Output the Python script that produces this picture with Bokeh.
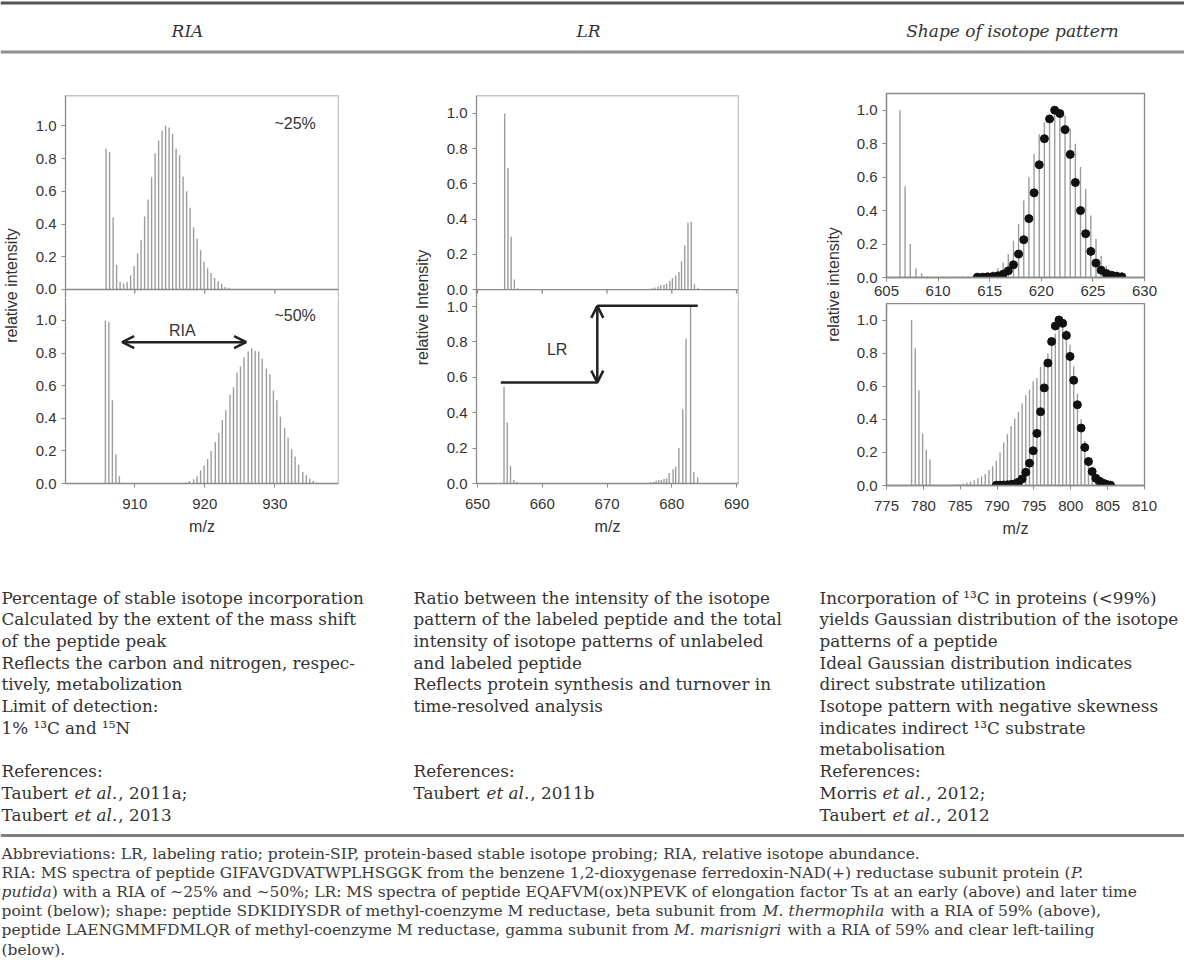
import math
from bokeh.plotting import figure
from bokeh.layouts import column, row
from bokeh.models import Range1d, FixedTicker, NumeralTickFormatter, Arrow, OpenHead, Span
from bokeh.core.properties import value
from bokeh.embed import file_html
from bokeh.resources import INLINE

# ---------------- data ----------------
# RIA column (m/z, relative intensity)
ria_top_mz = [905.9, 906.4, 906.9, 907.4, 907.9, 908.4, 908.9, 909.4, 909.9, 910.4, 910.9, 911.4,
              911.9, 912.4, 912.9, 913.4, 913.9, 914.4, 914.9, 915.4, 915.9, 916.4, 916.9, 917.4,
              917.9, 918.4, 918.9, 919.4, 919.9, 920.4, 920.9, 921.4, 921.9, 922.4, 922.9, 923.4]
ria_top_int = [0.86, 0.84, 0.44, 0.15, 0.047, 0.037, 0.045, 0.087, 0.144, 0.22, 0.30, 0.446,
               0.55, 0.686, 0.83, 0.91, 0.97, 1.0, 0.99, 0.95, 0.86, 0.82, 0.69, 0.60,
               0.50, 0.38, 0.31, 0.24, 0.17, 0.13, 0.10, 0.07, 0.05, 0.035, 0.015, 0.01]
ria_bot_unl_mz = [905.8, 906.3, 906.8, 907.3, 907.8, 908.3]
ria_bot_unl_int = [1.0, 0.99, 0.51, 0.18, 0.045, 0.005]
ria_bot_lab_mz = [916.8, 917.3, 917.8, 918.4, 918.9, 919.4, 919.9, 920.4, 920.9, 921.5, 922.0, 922.5,
                  923.0, 923.6, 924.1, 924.6, 925.1, 925.6, 926.2, 926.7, 927.2, 927.7, 928.2, 928.8,
                  929.3, 929.8, 930.3, 930.8, 931.4, 931.9, 932.4, 932.9, 933.4, 934.0, 934.5, 935.0,
                  935.5, 936.0]
ria_bot_lab_int = [0.004, 0.008, 0.016, 0.026, 0.045, 0.08, 0.11, 0.15, 0.20, 0.255, 0.31, 0.39,
                   0.45, 0.545, 0.59, 0.68, 0.72, 0.775, 0.81, 0.83, 0.815, 0.81, 0.765, 0.705,
                   0.67, 0.57, 0.51, 0.41, 0.34, 0.28, 0.21, 0.165, 0.115, 0.07, 0.05, 0.03,
                   0.016, 0.006]
ria_labels = ["~25%", "~50%"]
ria_arrow_mz = [908.2, 925.9]
ria_arrow_level = 0.867

# LR column
lr_top_unl_mz = [654.2, 654.7, 655.2, 655.7, 656.2]
lr_top_unl_int = [1.0, 0.69, 0.30, 0.057, 0.008]
lr_top_lab_mz = [676.5, 677.0, 677.4, 677.9, 678.3, 678.8, 679.2, 679.7, 680.1, 680.6, 681.1, 681.5,
                 682.0, 682.5, 683.0, 683.5, 684.0]
lr_top_lab_int = [0.004, 0.008, 0.012, 0.018, 0.024, 0.028, 0.035, 0.05, 0.065, 0.08, 0.10, 0.16,
                  0.25, 0.38, 0.385, 0.03, 0.01]
lr_bot_unl_mz = [654.1, 654.6, 655.1, 655.6, 656.1]
lr_bot_unl_int = [0.545, 0.345, 0.10, 0.02, 0.01]
lr_bot_lab_mz = [676.7, 677.2, 677.6, 678.0, 678.4, 678.8, 679.2, 679.6, 680.2, 680.6, 681.1, 681.7,
                 682.2, 682.9, 683.4, 684.0]
lr_bot_lab_int = [0.008, 0.01, 0.015, 0.02, 0.02, 0.025, 0.03, 0.06, 0.08, 0.095, 0.2, 0.42,
                  0.82, 1.0, 0.065, 0.035]
lr_level_unlabeled = 0.57
lr_level_total = 1.004
lr_step_mz = [653.6, 668.5, 684.0]

# Shape column
sh_top_unl_mz = [606.3, 606.8, 607.3, 607.85, 608.4, 608.9, 609.4, 609.9, 610.4, 610.9, 611.4,
                 611.9, 612.4, 612.9, 613.4]
sh_top_unl_int = [1.0, 0.545, 0.2, 0.056, 0.026, 0.006, 0.005, 0.005, 0.005, 0.005, 0.005,
                  0.006, 0.006, 0.007, 0.008]
sh_top_lab_mz = [613.8, 614.3, 614.8, 615.3, 615.8, 616.3, 616.8, 617.3, 617.8, 618.3, 618.8,
                 619.3, 619.8, 620.3, 620.8, 621.3, 621.8, 622.3, 622.8, 623.3, 623.8, 624.3,
                 624.8, 625.3, 625.8, 626.3, 626.8, 627.3, 627.8]
sh_top_lab_int = [0.01, 0.015, 0.02, 0.036, 0.056, 0.09, 0.14, 0.22, 0.32, 0.46, 0.60, 0.74,
                  0.856, 0.93, 0.97, 1.0, 0.98, 0.97, 0.89, 0.80, 0.66, 0.53, 0.37, 0.23,
                  0.13, 0.07, 0.03, 0.015, 0.005]
sh_top_fit_int = [0.002, 0.002, 0.004, 0.006, 0.01, 0.02, 0.04, 0.076, 0.14, 0.226, 0.352, 0.506,
                  0.674, 0.83, 0.948, 1.0, 0.98, 0.884, 0.736, 0.568, 0.40, 0.262, 0.156, 0.086,
                  0.044, 0.024, 0.014, 0.008, 0.004]
sh_bot_unl_mz = [778.4, 778.9, 779.4, 779.9, 780.4, 780.9, 781.4, 781.9]
sh_bot_unl_int = [1.0, 0.83, 0.576, 0.315, 0.215, 0.157, 0.004, 0.003]
sh_bot_lab_mz = [783.9, 784.4, 784.9, 785.4, 785.9, 786.4, 786.9, 787.4, 787.9, 788.4, 788.9,
                 789.4, 789.9, 790.4, 790.9, 791.4, 791.9, 792.4, 792.9, 793.4, 793.9, 794.4,
                 794.9, 795.4, 795.9, 796.4, 796.9, 797.4, 797.9, 798.4, 798.9, 799.4, 799.9,
                 800.4, 800.9, 801.4, 801.9, 802.4, 802.9, 803.4, 803.9, 804.4, 804.9]
sh_bot_lab_int = [0.004, 0.006, 0.008, 0.012, 0.018, 0.024, 0.032, 0.044, 0.056, 0.07, 0.094,
                  0.116, 0.15, 0.2, 0.26, 0.31, 0.36, 0.405, 0.446, 0.496, 0.546, 0.578,
                  0.63, 0.65, 0.717, 0.75, 0.80, 0.853, 0.918, 0.974, 0.985, 0.94, 0.85,
                  0.72, 0.555, 0.40, 0.27, 0.17, 0.10, 0.06, 0.03, 0.015, 0.006]
sh_bot_fit_mz = [789.9, 790.4, 790.9, 791.4, 791.9, 792.4, 792.9, 793.4, 793.9, 794.4, 794.9,
                 795.4, 795.9, 796.4, 796.9, 797.4, 797.9, 798.4, 798.9, 799.4, 799.9, 800.4,
                 800.9, 801.4, 801.9, 802.4, 802.9, 803.4, 803.9, 804.4, 804.9, 805.4]
sh_bot_fit_int = [0.002, 0.002, 0.003, 0.004, 0.006, 0.01, 0.02, 0.04, 0.08, 0.135, 0.21,
                  0.315, 0.446, 0.59, 0.74, 0.87, 0.964, 1.0, 0.98, 0.907, 0.78, 0.636,
                  0.488, 0.347, 0.23, 0.145, 0.084, 0.044, 0.026, 0.014, 0.006, 0.002]

y_ticks = [0.0, 0.2, 0.4, 0.6, 0.8, 1.0]
ria_xticks = [910, 920, 930]
lr_xticks = [650, 660, 670, 680, 690]
sh_top_xticks = [605, 610, 615, 620, 625, 630]
sh_bot_xticks = [775, 780, 785, 790, 795, 800, 805, 810]
y_titles = ["relative intensity", "relative Intensity", "relative intensity"]

headers = ["RIA", "LR", "Shape of isotope pattern"]
ria_desc = ["Percentage of stable isotope incorporation",
            "Calculated by the extent of the mass shift",
            "of the peptide peak",
            "Reflects the carbon and nitrogen, respec-",
            "tively, metabolization",
            "Limit of detection:",
            "1% \u00b9\u00b3C and \u00b9\u2075N"]
lr_desc = ["Ratio between the intensity of the isotope",
           "pattern of the labeled peptide and the total",
           "intensity of isotope patterns of unlabeled",
           "and labeled peptide",
           "Reflects protein synthesis and turnover in",
           "time-resolved analysis"]
shape_desc = ["Incorporation of \u00b9\u00b3C in proteins (<99%)",
              "yields Gaussian distribution of the isotope",
              "patterns of a peptide",
              "Ideal Gaussian distribution indicates",
              "direct substrate utilization",
              "Isotope pattern with negative skewness",
              "indicates indirect \u00b9\u00b3C substrate",
              "metabolisation"]
ria_refs = [("Taubert", ", 2011a;"), ("Taubert", ", 2013")]
lr_refs = [("Taubert", ", 2011b")]
shape_refs = [("Morris", ", 2012;"), ("Taubert", ", 2012")]

foot_lines = [
    [("Abbreviations: LR, labeling ratio; protein-SIP, protein-based stable isotope probing; RIA, relative isotope abundance.", "normal")],
    [("RIA: MS spectra of peptide GIFAVGDVATWPLHSGGK from the benzene 1,2-dioxygenase ferredoxin-NAD(+) reductase subunit protein (", "normal"), ("P.", "italic")],
    [("putida", "italic"), (") with a RIA of \u223c25% and \u223c50%; LR: MS spectra of peptide EQAFVM(ox)NPEVK of elongation factor Ts at an early (above) and later time", "normal")],
    [("point (below); shape: peptide SDKIDIYSDR of methyl-coenzyme M reductase, beta subunit from", "normal"), ("M. thermophila", "italic"), ("with a RIA of 59% (above),", "normal")],
    [("peptide LAENGMMFDMLQR of methyl-coenzyme M reductase, gamma subunit from", "normal"), ("M. marisnigri", "italic"), ("with a RIA of 59% and clear left-tailing", "normal")],
    [("(below).", "normal")],
]

# ---------------- styling helpers ----------------
AX = "#8a8a8a"
BAR = "#9c9c9c"
TXT = "#333333"
SANS = "Liberation Sans"
SERIF = "DejaVu Serif"

# approximate DejaVu Serif advance widths (units per 2048 em), used only to place text pieces
_W = {' ': 651, '!': 823, '(': 799, ')': 799, '+': 1716, ',': 651, '-': 700, '.': 651, '/': 690,
      ':': 690, ';': 690, '%': 1946, '\u223c': 1716, '<': 1716,
      'A': 1479, 'B': 1479, 'C': 1497, 'D': 1616, 'E': 1470, 'F': 1382, 'G': 1597, 'H': 1767,
      'I': 840, 'J': 840, 'K': 1532, 'L': 1325, 'M': 2140, 'N': 1744, 'O': 1610, 'P': 1391,
      'Q': 1610, 'R': 1499, 'S': 1413, 'T': 1386, 'U': 1697, 'V': 1479, 'W': 2155, 'X': 1479,
      'Y': 1386, 'Z': 1417,
      'a': 1221, 'b': 1312, 'c': 1147, 'd': 1312, 'e': 1212, 'f': 760, 'g': 1312, 'h': 1321,
      'i': 655, 'j': 655, 'k': 1241, 'l': 655, 'm': 1948, 'n': 1321, 'o': 1233, 'p': 1312,
      'q': 1312, 'r': 980, 's': 1050, 't': 823, 'u': 1321, 'v': 1158, 'w': 1702, 'x': 1158,
      'y': 1158, 'z': 1071}


def text_w(s, size):
    return sum(_W.get(c, 1303 if c.isdigit() else 1200) for c in s) / 2048.0 * size


def style_axis(ax):
    ax.axis_line_color = AX
    ax.axis_line_width = 1.3
    ax.major_tick_line_color = AX
    ax.major_tick_out = 4
    ax.major_tick_in = 0
    ax.minor_tick_line_color = None
    ax.major_label_text_font = SANS
    ax.major_label_text_font_size = "15px"
    ax.major_label_text_color = TXT


def spectrum(width, height, xr, yr, mbl, mbr, mbt, mbb, xticks=None, xlabel=None, box=True,
             xstand=4, lstand=6):
    p = figure(width=width, height=height, x_range=Range1d(*xr), y_range=Range1d(*yr),
               output_backend="svg", toolbar_location=None,
               x_axis_location="below" if xticks else None,
               min_border_left=mbl, min_border_right=mbr, min_border_top=mbt, min_border_bottom=mbb)
    p.grid.visible = False
    p.outline_line_color = AX if box else None
    p.outline_line_width = 1.3
    p.background_fill_color = "white"
    p.border_fill_color = "white"
    for ax in list(p.yaxis) + (list(p.xaxis) if xticks else []):
        style_axis(ax)
    p.yaxis.ticker = FixedTicker(ticks=y_ticks)
    p.yaxis.formatter = NumeralTickFormatter(format="0.0")
    p.yaxis.major_label_standoff = 5
    if xticks:
        p.xaxis.ticker = FixedTicker(ticks=xticks)
        p.xaxis.formatter = NumeralTickFormatter(format="0")
        p.xaxis.major_label_standoff = xstand
        if xlabel:
            p.xaxis.axis_label = xlabel
            p.xaxis.axis_label_text_font = SANS
            p.xaxis.axis_label_text_font_size = "16px"
            p.xaxis.axis_label_text_font_style = "normal"
            p.xaxis.axis_label_text_color = TXT
            p.xaxis.axis_label_standoff = lstand
    return p


def edge(p, loc, dim):
    p.add_layout(Span(location=loc, dimension=dim, line_color=AX, line_width=1.3))


def small_ticks(p, ticks, depth):
    p.segment(x0=ticks, y0=[0] * len(ticks), x1=ticks, y1=[-depth] * len(ticks),
              line_color=AX, line_width=1.3)


def bars(p, mz, inten):
    p.segment(x0=mz, y0=[0] * len(mz), x1=mz, y1=inten, line_color=BAR, line_width=1.4)


def dots(p, mz, inten):
    p.scatter(x=mz, y=inten, size=8, fill_color="#111111", line_color="#111111")


def ptext(p, x, y, t, size="16px"):
    p.text(x=[x], y=[y], text=[t], text_font=value(SANS), text_font_size=value(size),
           text_color=TXT, text_align="center", text_baseline="middle")


def darrow(p, x0, y0, x1, y1):
    p.add_layout(Arrow(start=OpenHead(size=12, line_width=2.5, line_color="#222222"),
                       end=OpenHead(size=12, line_width=2.5, line_color="#222222"),
                       x_start=x0, y_start=y0, x_end=x1, y_end=y1,
                       line_width=2.5, line_color="#222222"))


# ---------------- RIA column: x 28-400, frame 65-338 ----------------
ria_xr = (900.1, 939.1)
p_ria_top = spectrum(372, 237, ria_xr, (-0.049, 1.185), 37, 62, 35, 0, box=False)
edge(p_ria_top, 0, "width")
edge(p_ria_top, 1.185, "width")
edge(p_ria_top, ria_xr[1], "height")
small_ticks(p_ria_top, ria_xticks, 0.024)
bars(p_ria_top, ria_top_mz, ria_top_int)
ptext(p_ria_top, 932.9, 1.012, ria_labels[0])

p_ria_bot = spectrum(372, 248, ria_xr, (0, 1.141), 37, 62, 0, 62, ria_xticks, "m/z", box=False,
                     xstand=11, lstand=6)
edge(p_ria_bot, ria_xr[1], "height")
bars(p_ria_bot, ria_bot_unl_mz, ria_bot_unl_int)
bars(p_ria_bot, ria_bot_lab_mz, ria_bot_lab_int)
ptext(p_ria_bot, 932.9, 1.03, ria_labels[1])
ptext(p_ria_bot, 916.8, 0.94, "RIA")
darrow(p_ria_bot, ria_arrow_mz[0], ria_arrow_level, ria_arrow_mz[1], ria_arrow_level)

# ---------------- LR column: x 432-810, frame 476-738 ----------------
lr_xr = (649.85, 690.3)
p_lr_top = spectrum(378, 237, lr_xr, (-0.045, 1.102), 44, 72, 35, 0, box=False)
edge(p_lr_top, 0, "width")
edge(p_lr_top, 1.102, "width")
edge(p_lr_top, lr_xr[1], "height")
small_ticks(p_lr_top, lr_xticks, 0.022)
bars(p_lr_top, lr_top_unl_mz, lr_top_unl_int)
bars(p_lr_top, lr_top_lab_mz, lr_top_lab_int)

p_lr_bot = spectrum(378, 248, lr_xr, (0, 1.051), 44, 72, 0, 62, lr_xticks, "m/z", box=False,
                    xstand=11, lstand=6)
edge(p_lr_bot, lr_xr[1], "height")
bars(p_lr_bot, lr_bot_unl_mz, lr_bot_unl_int)
bars(p_lr_bot, lr_bot_lab_mz, lr_bot_lab_int)
p_lr_bot.segment(x0=[lr_step_mz[0], lr_step_mz[1]], y0=[lr_level_unlabeled, lr_level_total],
                 x1=[lr_step_mz[1], lr_step_mz[2]], y1=[lr_level_unlabeled, lr_level_total],
                 line_color="#222222", line_width=2.5)
darrow(p_lr_bot, lr_step_mz[1], lr_level_unlabeled, lr_step_mz[1], lr_level_total)
ptext(p_lr_bot, 662.3, 0.755, "LR")

# ---------------- Shape column: x 845-1184, frame 886-1144 ----------------
p_sh_top = spectrum(339, 243, (605, 630), (0, 1.10), 41, 40, 33, 26, sh_top_xticks)
bars(p_sh_top, sh_top_unl_mz, sh_top_unl_int)
bars(p_sh_top, sh_top_lab_mz, sh_top_lab_int)
dots(p_sh_top, sh_top_lab_mz, sh_top_fit_int)
p_sh_bot = spectrum(339, 242, (775, 810), (0, 1.10), 41, 40, 0, 60, sh_bot_xticks, "m/z",
                    xstand=11, lstand=6)
bars(p_sh_bot, sh_bot_unl_mz, sh_bot_unl_int)
bars(p_sh_bot, sh_bot_lab_mz, sh_bot_lab_int)
dots(p_sh_bot, sh_bot_fit_mz, sh_bot_fit_int)


def blank(width, height, xr, yr):
    p = figure(width=width, height=height, x_range=Range1d(*xr), y_range=Range1d(*yr),
               output_backend="svg", toolbar_location=None,
               x_axis_location=None, y_axis_location=None,
               min_border_left=0, min_border_right=0, min_border_top=0, min_border_bottom=0)
    p.grid.visible = False
    p.outline_line_color = None
    p.background_fill_color = "white"
    p.border_fill_color = "white"
    return p


def ylab(x0, width, x, y, t):
    p = blank(width, 485, (x0, x0 + width), (545, 60))
    p.text(x=[x], y=[y], text=[t], angle=math.pi / 2, text_align="center", text_baseline="middle",
           text_font=value(SANS), text_font_size=value("16px"), text_color=TXT)
    return p


lab_l = ylab(0, 28, 11, 285, y_titles[0])
lab_m = ylab(400, 32, 422, 307, y_titles[1])
lab_r = ylab(810, 35, 833, 284, y_titles[2])

plots = row(lab_l, column(p_ria_top, p_ria_bot, spacing=0),
            lab_m, column(p_lr_top, p_lr_bot, spacing=0),
            lab_r, column(p_sh_top, p_sh_bot, spacing=0), spacing=0)

# ---------------- header ----------------
hdr = blank(1184, 60, (0, 1184), (60, 0))
hdr.segment(x0=[0], y0=[2.5], x1=[1184], y1=[2.5], line_color="#555555", line_width=3)
hdr.segment(x0=[0], y0=[51.5], x1=[1184], y1=[51.5], line_color="#8f8f8f", line_width=3)
hdr.text(x=[187, 588, 1012], y=[30, 30, 30], text=headers, text_align="center",
         text_baseline="middle", text_font=value(SERIF), text_font_size=value("17px"),
         text_font_style="italic", text_color=TXT)

# ---------------- body text + footnotes ----------------
body = blank(1184, 412, (0, 1184), (957, 545))
BODY_SIZE = 16.8
col_x = [1, 413, 819]
line_y = [597, 618.7, 640.4, 662.1, 683.8, 705.5, 727.2, 748.9, 770.6, 792.3, 814.0]


def put(x, y, t, size, style="normal", color=TXT):
    body.text(x=[x], y=[y], text=[t], text_align="left", text_baseline="middle",
              text_font=value(SERIF), text_font_size=value("%.2fpx" % size),
              text_font_style=style, text_color=color)


for cx, desc, refs in zip(col_x, [ria_desc, lr_desc, shape_desc], [ria_refs, lr_refs, shape_refs]):
    for i, t in enumerate(desc):
        put(cx, line_y[i], t, BODY_SIZE)
    put(cx, line_y[8], "References:", BODY_SIZE)
    for j, (name, rest) in enumerate(refs):
        y = line_y[9 + j]
        put(cx, y, name, BODY_SIZE)
        x1 = cx + text_w(name + " ", BODY_SIZE)
        put(x1, y, "et al.", BODY_SIZE, "italic")
        put(x1 + text_w("et al.", BODY_SIZE) + 1, y, rest, BODY_SIZE)

body.segment(x0=[0], y0=[835], x1=[1184], y1=[835], line_color="#7f7f7f", line_width=3)

# footnote size chosen so that the longest line fits the width
foot_em = max(sum(text_w(t, 1.0) for t, _ in segs) + 0.3 * (len(segs) - 1) for segs in foot_lines)
FOOT_SIZE = min(15.5, 1178.0 / foot_em)
foot_y = [853, 872.2, 891.4, 910.6, 929.8, 949]
for segs, y in zip(foot_lines, foot_y):
    x = 1
    prev = ""
    for k, (t, st) in enumerate(segs):
        if prev.endswith("("):
            x -= 3
        elif k > 0 and not t.startswith(")"):
            x += text_w(" ", FOOT_SIZE) + 1
        put(x, y, t, FOOT_SIZE, st, "#3a3a3a")
        x += text_w(t, FOOT_SIZE)
        prev = t

layout = column(hdr, plots, body, spacing=0)
open("out.html", "w").write(file_html(layout, INLINE))
